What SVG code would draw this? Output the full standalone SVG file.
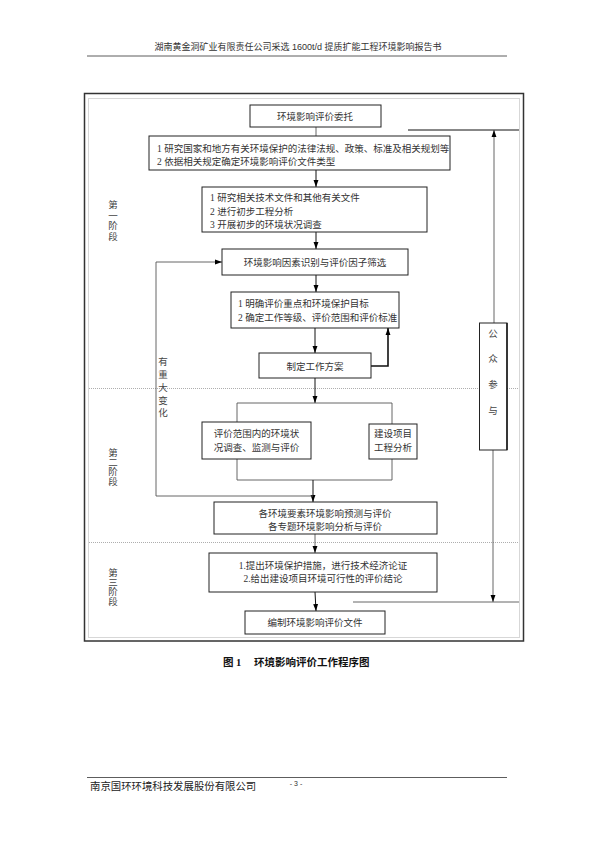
<svg xmlns="http://www.w3.org/2000/svg" width="595" height="841" viewBox="0 0 595 841">
<defs>
<style>
.t{font-family:"Liberation Serif","Noto Sans CJK SC",serif;font-size:9.5px;fill:#333}
.c{text-anchor:middle}
.box{fill:#fff;stroke:#222;stroke-width:1}
.ln{fill:none;stroke:#555;stroke-width:0.9}
.lb{fill:none;stroke:#111;stroke-width:1}
.dot{fill:none;stroke:#999;stroke-width:0.8;stroke-dasharray:1 1}
.stg{font-family:"Liberation Serif","Noto Sans CJK SC",serif;font-size:9.5px;fill:#444;text-anchor:middle}
</style>
<marker id="ah" viewBox="0 0 10 10" refX="10" refY="5" markerWidth="7" markerHeight="7" orient="auto" markerUnits="userSpaceOnUse">
<path d="M0,1.5 L10,5 L0,8.5 z" fill="#000"/>
</marker>
</defs>
<rect width="595" height="841" fill="#fff"/>

<g id="header">
<text x="298" y="50" font-family="Liberation Sans,Noto Sans CJK SC,sans-serif" font-size="9" fill="#333" text-anchor="middle">湖南黄金洞矿业有限责任公司采选 1600t/d 提质扩能工程环境影响报告书</text>
<line x1="87" y1="56" x2="507" y2="56" stroke="#333" stroke-width="0.8"/>
</g>

<g id="frame">
<rect x="84.5" y="93.5" width="439" height="547.5" fill="none" stroke="#333" stroke-width="1.5"/>
<rect x="88.5" y="98.5" width="431" height="539" class="dot"/>
<line x1="89" y1="388.5" x2="479" y2="388.5" class="dot"/>
<line x1="507" y1="388.5" x2="519" y2="388.5" class="dot"/>
<line x1="89" y1="542.5" x2="519" y2="542.5" class="dot"/>
</g>

<g id="stages">
<text class="stg" x="113" y="208">第</text>
<text class="stg" x="113" y="218.5">一</text>
<text class="stg" x="113" y="229">阶</text>
<text class="stg" x="113" y="239.5">段</text>
<text class="stg" x="113" y="456">第</text>
<text class="stg" x="113" y="465.5">二</text>
<text class="stg" x="113" y="475">阶</text>
<text class="stg" x="113" y="484.5">段</text>
<text class="stg" x="113" y="576">第</text>
<text class="stg" x="113" y="585.5">三</text>
<text class="stg" x="113" y="595">阶</text>
<text class="stg" x="113" y="604.5">段</text>
</g>

<g id="connectors">
<line x1="316" y1="127" x2="316" y2="136" class="ln"/>
<line x1="316" y1="170" x2="316" y2="187" class="lb" marker-end="url(#ah)"/>
<line x1="316" y1="232" x2="316" y2="249" class="lb" marker-end="url(#ah)"/>
<line x1="316" y1="275" x2="316" y2="292" class="lb" marker-end="url(#ah)"/>
<line x1="315" y1="328" x2="315" y2="353" class="lb" marker-end="url(#ah)"/>
<polyline points="371,366 388,366 388,328" fill="none" stroke="#111" stroke-width="1.6" marker-end="url(#ah)"/>
<line x1="315" y1="378" x2="315" y2="403" class="lb" marker-end="url(#ah)"/>
<polyline points="237,422 237,403 392,403 392,424" class="ln"/>
<polyline points="237,459 237,480 392,480 392,459" class="ln"/>
<line x1="313" y1="480" x2="313" y2="502" class="lb" marker-end="url(#ah)"/>
<polyline points="313,496 156,496 156,262 222,262" class="ln" marker-end="url(#ah)"/>
<line x1="315" y1="534" x2="315" y2="553" class="ln" marker-end="url(#ah)"/>
<line x1="315" y1="592" x2="316" y2="611" class="lb" marker-end="url(#ah)"/>
<line x1="408" y1="130" x2="519" y2="130" class="lb"/>
<line x1="494" y1="323" x2="494" y2="130" class="ln" marker-end="url(#ah)"/>
<line x1="493" y1="450" x2="493" y2="602" class="ln" marker-end="url(#ah)"/>
<line x1="353" y1="602" x2="519" y2="602" class="ln"/>
<text class="stg" x="163" y="365">有</text>
<text class="stg" x="163" y="378">重</text>
<text class="stg" x="163" y="391">大</text>
<text class="stg" x="163" y="403.5">变</text>
<text class="stg" x="163" y="416">化</text>
</g>

<g id="n1">
<rect class="box" x="250" y="105" width="131" height="22"/>
<text class="t c" x="315" y="119.5" font-size="10">环境影响评价委托</text>
</g>
<g id="n2">
<rect class="box" x="149" y="136" width="301" height="34"/>
<text class="t" x="157" y="151.5" font-size="8.9">1 研究国家和地方有关环境保护的法律法规、政策、标准及相关规划等</text>
<text class="t" x="157" y="164.5" font-size="8.9">2 依据相关规定确定环境影响评价文件类型</text>
</g>
<g id="n3">
<rect class="box" x="202" y="187" width="225" height="45"/>
<text class="t" x="210" y="200.5">1 研究相关技术文件和其他有关文件</text>
<text class="t" x="210" y="214.5">2 进行初步工程分析</text>
<text class="t" x="210" y="227.5">3 开展初步的环境状况调查</text>
</g>
<g id="n4">
<rect class="box" x="222" y="249" width="186" height="26"/>
<text class="t c" x="315" y="265.5">环境影响因素识别与评价因子筛选</text>
</g>
<g id="n5">
<rect class="box" x="231" y="292" width="168" height="36"/>
<text class="t" x="238" y="306.5" font-size="9">1 明确评价重点和环境保护目标</text>
<text class="t" x="238" y="320.5" font-size="9">2 确定工作等级、评价范围和评价标准</text>
</g>
<g id="n6">
<rect class="box" x="259" y="353" width="112" height="25"/>
<text class="t c" x="315" y="369.5">制定工作方案</text>
</g>
<g id="n7">
<rect class="box" x="202" y="422" width="109" height="37"/>
<text class="t c" x="256.5" y="436.5">评价范围内的环境状</text>
<text class="t c" x="256.5" y="450.5">况调查、监测与评价</text>
</g>
<g id="n8">
<rect class="box" x="369" y="424" width="48" height="35"/>
<text class="t c" x="393" y="436.5">建设项目</text>
<text class="t c" x="393" y="450.5">工程分析</text>
</g>
<g id="n9">
<rect class="box" x="214" y="502" width="223" height="32"/>
<text class="t c" x="325" y="516.5">各环境要素环境影响预测与评价</text>
<text class="t c" x="325" y="529.5">各专题环境影响分析与评价</text>
</g>
<g id="n10">
<rect class="box" x="209" y="553" width="228" height="39"/>
<text class="t c" x="323" y="568.5">1.提出环境保护措施，进行技术经济论证</text>
<text class="t c" x="323" y="581.5">2.给出建设项目环境可行性的评价结论</text>
</g>
<g id="n11">
<rect class="box" x="245" y="611" width="140" height="23"/>
<text class="t c" x="315" y="625.5">编制环境影响评价文件</text>
</g>
<g id="n12">
<rect class="box" x="479.5" y="323" width="27.5" height="127"/>
<line x1="507" y1="323" x2="507" y2="450" stroke="#111" stroke-width="1.4"/>
<text class="stg" x="493" y="336.5">公</text>
<text class="stg" x="493" y="362">众</text>
<text class="stg" x="493" y="388">参</text>
<text class="stg" x="493" y="413.5">与</text>
</g>

<g id="caption">
<text x="223" y="666" font-family="Liberation Serif,Noto Sans CJK SC,serif" font-size="10.5" font-weight="bold" fill="#111">图 1</text>
<text x="254" y="666" font-family="Liberation Serif,Noto Sans CJK SC,serif" font-size="10.5" font-weight="bold" fill="#111">环境影响评价工作程序图</text>
</g>

<g id="footer">
<line x1="87" y1="777.5" x2="507" y2="777.5" stroke="#333" stroke-width="0.8"/>
<text x="90" y="790" font-family="Liberation Sans,Noto Sans CJK SC,sans-serif" font-size="10.4" fill="#222">南京国环环境科技发展股份有限公司</text>
<text x="296" y="786" font-family="Liberation Sans,Noto Sans CJK SC,sans-serif" font-size="7" fill="#333" text-anchor="middle">- 3 -</text>
</g>
</svg>
